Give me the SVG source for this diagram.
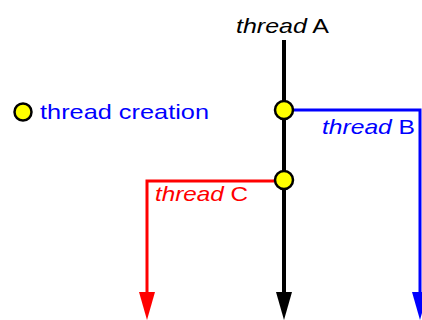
<svg xmlns="http://www.w3.org/2000/svg" width="422" height="320" viewBox="0 0 422 320">
<style>
text{font-family:"Liberation Sans",Arial,sans-serif;font-size:21px}
.i{font-style:italic}
.dot{fill:#ffff00;stroke:#000;stroke-width:2.5}
</style>
<rect width="422" height="320" fill="#fff"/>
<g id="connectors">
<path d="M284,40 V296" stroke="#000" stroke-width="4" fill="none"/>
<polygon points="276,292 292,292 284,320" fill="#000"/>
<path d="M284,110 H420 V296" stroke="#0000ff" stroke-width="3" fill="none"/>
<polygon points="412,292 428,292 420,320" fill="#0000ff"/>
<path d="M284,181 H147 V296" stroke="#ff0000" stroke-width="3" fill="none"/>
<polygon points="139,292 155,292 147,320" fill="#ff0000"/>
</g>
<g id="threadA"><text x="236" y="33" textLength="93" lengthAdjust="spacingAndGlyphs" fill="#000"><tspan class="i">thread</tspan> A</text></g>
<g id="threadB"><text x="322" y="134" textLength="93" lengthAdjust="spacingAndGlyphs" fill="#0000ff"><tspan class="i">thread</tspan> B</text></g>
<g id="threadC"><text x="155" y="201" textLength="93" lengthAdjust="spacingAndGlyphs" fill="#ff0000"><tspan class="i">thread</tspan> C</text></g>
<g id="fork1"><circle class="dot" cx="284" cy="110" r="9"/></g>
<g id="fork2"><circle class="dot" cx="284" cy="180" r="9"/></g>
<g id="legend"><circle class="dot" cx="23" cy="112" r="8.5"/><text x="40" y="119" textLength="169" lengthAdjust="spacingAndGlyphs" fill="#0000ff">thread creation</text></g>
</svg>
